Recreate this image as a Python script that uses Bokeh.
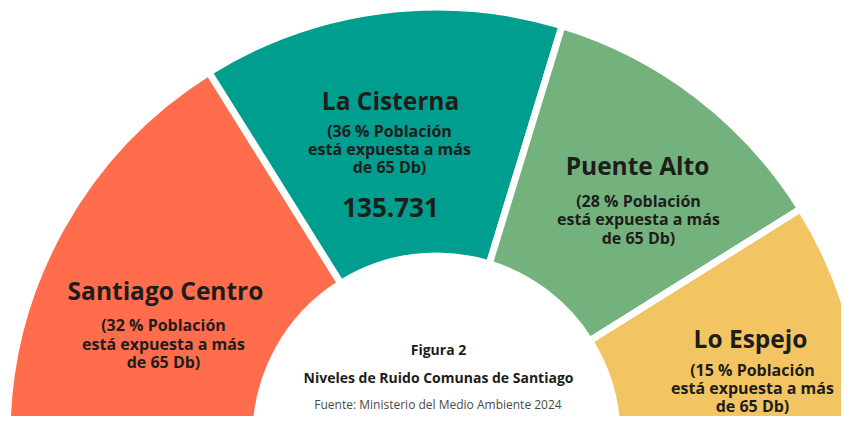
import numpy as np
from bokeh.plotting import figure
from bokeh.models import Range1d, ColumnDataSource
from bokeh.core.properties import value
from bokeh.embed import file_html
from bokeh.resources import INLINE

# ---- data ----
comunas = ["Santiago Centro", "La Cisterna", "Puente Alto", "Lo Espejo"]
porcentaje = [32, 36, 28, 15]          # % población expuesta a más de 65 Db
sector_share = [58, 49, 41, 32]        # relative size of each sector (of 180)
colores = ["#FF6D4D", "#009E8E", "#74B27D", "#F3C462"]
destacado_comuna = "La Cisterna"
destacado_valor = "135.731"
titulo_fig = "Figura 2"
titulo = "Niveles de Ruido Comunas de Santiago"
fuente = "Fuente: Ministerio del Medio Ambiente 2024"

W, H = 841, 416
p = figure(width=W, height=H, output_backend="svg", toolbar_location=None,
           x_range=Range1d(0, W), y_range=Range1d(432 - H, 432),
           min_border=0)
p.axis.visible = False
p.grid.visible = False
p.outline_line_color = None
p.background_fill_color = "white"
p.border_fill_color = "white"

# geometry (reference pixel coords, y flipped)
cx, cy = 436, 432 - 436
r_in, r_out = 184, 426
gap = 7

shares = np.array(sector_share, dtype=float)
ends = np.pi - np.cumsum(shares) / shares.sum() * np.pi
starts = np.concatenate([[np.pi], ends[:-1]])

src = ColumnDataSource(dict(start=ends, end=starts, color=colores))
p.annular_wedge(x=cx, y=cy, inner_radius=r_in - gap / 2, outer_radius=r_out + gap / 2,
                start_angle="start", end_angle="end", source=src,
                fill_color="color", line_color="white", line_width=gap)

font = value("Open Sans")
ink = "#1d1d1b"

title_pos = {"Santiago Centro": (165, 290), "La Cisterna": (390, 100),
             "Puente Alto": (637, 165), "Lo Espejo": (750, 338)}
sub_pos = {"Santiago Centro": (163, [324, 343, 361]), "La Cisterna": (389, [130, 148, 166]),
           "Puente Alto": (638, [200, 218, 237]), "Lo Espejo": (752, [369, 387, 405])}

tx, ty, tt = [], [], []
sx, sy, st = [], [], []
for name, pct in zip(comunas, porcentaje):
    x0, y0 = title_pos[name]
    tx.append(x0); ty.append(432 - y0); tt.append(name)
    xs, ys = sub_pos[name]
    for yy, line in zip(ys, [f"({pct} % Población", "está expuesta a más", "de 65 Db)"]):
        sx.append(xs); sy.append(432 - yy); st.append(line)

p.text(x=tx, y=ty, text=tt, text_font=font, text_font_style="bold",
       text_font_size="24.5px", text_align="center", text_baseline="alphabetic", text_color=ink)
p.text(x=sx, y=sy, text=st, text_font=font, text_font_style="bold",
       text_font_size="16px", text_align="center", text_baseline="alphabetic", text_color=ink)
p.text(x=[390], y=[432 - 207], text=[destacado_valor], text_font=font, text_font_style="bold",
       text_font_size="26px", text_align="center", text_baseline="alphabetic", text_color=ink)

p.text(x=[438], y=[432 - 349], text=[titulo_fig], text_font=font, text_font_style="bold",
       text_font_size="14px", text_align="center", text_baseline="alphabetic", text_color=ink)
p.text(x=[438], y=[432 - 377], text=[titulo], text_font=font, text_font_style="bold",
       text_font_size="14px", text_align="center", text_baseline="alphabetic", text_color=ink)
p.text(x=[437.5], y=[432 - 404], text=[fuente], text_font=font, text_font_style="normal",
       text_font_size="12px", text_align="center", text_baseline="alphabetic", text_color="#4a4a4a")

open("out.html", "w").write(file_html(p, INLINE))
